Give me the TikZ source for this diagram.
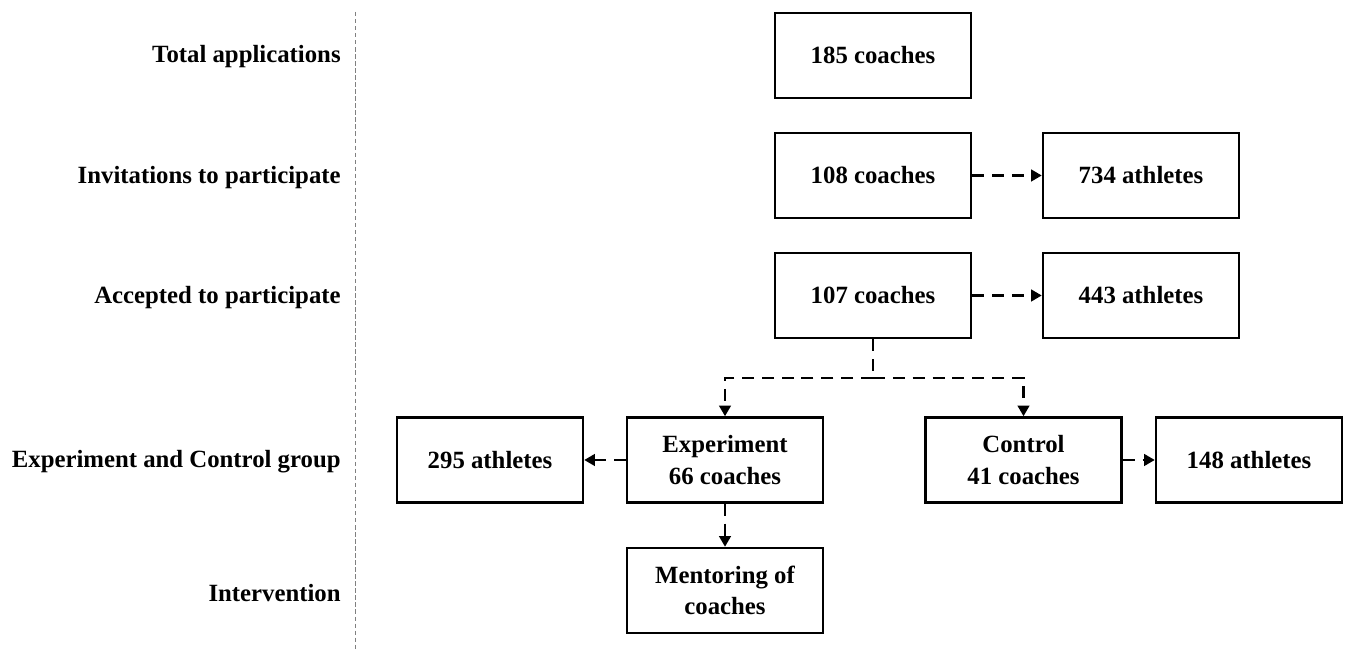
\documentclass[tikz,border=0pt]{standalone}
\usepackage{fontspec}
\setmainfont{Liberation Serif}
\usetikzlibrary{arrows.meta}
\begin{document}
\begin{tikzpicture}[
    box/.style={draw, line width=1.4pt, minimum width=3.92cm, minimum height=1.7cm, align=center, font=\fontsize{14.1}{18}\selectfont\bfseries},
    sidebox/.style={box, minimum width=3.72cm},
    rowlabel/.style={anchor=east, inner sep=0pt, font=\fontsize{14.1}{18}\selectfont\bfseries},
    flow/.style={line width=1.4pt, dash pattern=on 6.8pt off 4.5pt, -{Triangle[length=6pt,width=6.5pt]}}
]
    \useasboundingbox (0,0) rectangle (27.14,13);
    \draw[gray, line width=0.5pt, dash pattern=on 2.5pt off 1.5pt] (7.1,12.76) -- (7.1,0);

    % row labels
    \node[rowlabel] (lbltotal) at (6.82,11.86) {Total applications};
    \node[rowlabel] (lblinvite) at (6.82,9.44) {Invitations to participate};
    \node[rowlabel] (lblaccept) at (6.82,7.04) {Accepted to participate};
    \node[rowlabel] (lblgroup) at (6.82,3.76) {Experiment and Control group};
    \node[rowlabel] (lblinterv) at (6.82,1.14) {Intervention};

    % boxes
    \node[box] (c185) at (17.46,11.89) {185 coaches};
    \node[box] (c108) at (17.46,9.49) {108 coaches};
    \node[box] (a734) at (22.82,9.49) {734 athletes};
    \node[box] (c107) at (17.46,7.09) {107 coaches};
    \node[box] (a443) at (22.82,7.09) {443 athletes};
    \node[box] (exp) at (14.50,3.80) {Experiment\\66 coaches};
    \node[box] (ctl) at (20.47,3.80) {Control\\41 coaches};
    \node[sidebox] (a295) at (9.80,3.80) {295 athletes};
    \node[sidebox] (a148) at (24.98,3.80) {148 athletes};
    \node[box] (ment) at (14.50,1.19) {Mentoring of\\coaches};

    % connectors
    \coordinate (split) at (17.46,5.44);
    \draw[flow] (c108) -- (a734);
    \draw[flow] (c107) -- (a443);
    \draw[line width=1.4pt, dash pattern=on 6.8pt off 4.5pt] (c107) -- (split);
    \draw[flow] (split) -| (exp);
    \draw[flow] (split) -| (ctl);
    \draw[flow] (exp) -- (a295);
    \draw[flow] (ctl) -- (a148);
    \draw[flow] (exp) -- (ment);
\end{tikzpicture}
\end{document}
